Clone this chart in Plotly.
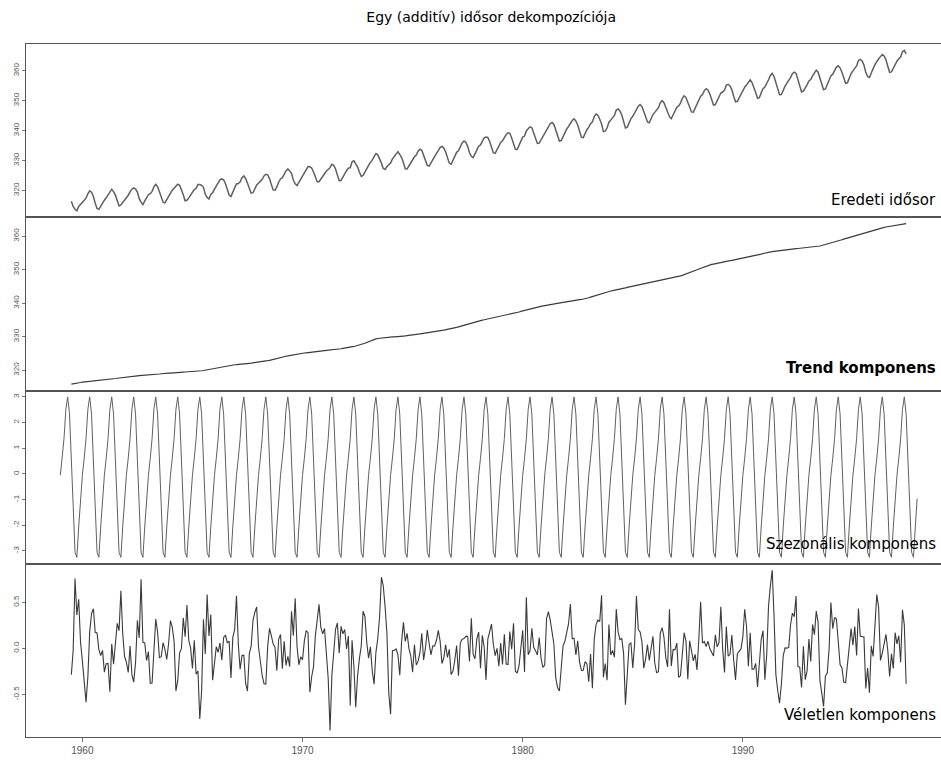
import numpy as np
import plotly.graph_objects as go
from plotly.subplots import make_subplots

# Monthly CO2 concentration (ppm), Jan 1959 - Dec 1997
start_year = 1959
co2_ppm = [
    315.42, 316.31, 316.50, 317.56, 318.13, 318.00, 316.39, 314.65, 313.68, 313.18, 314.66, 315.43,
    316.27, 316.81, 317.42, 318.87, 319.87, 319.43, 318.01, 315.74, 314.00, 313.68, 314.84, 316.03,
    316.73, 317.54, 318.38, 319.31, 320.42, 319.61, 318.42, 316.63, 314.83, 315.16, 315.94, 316.85,
    317.78, 318.40, 319.53, 320.42, 320.85, 320.45, 319.45, 317.25, 316.11, 315.27, 316.53, 317.53,
    318.58, 318.92, 319.70, 321.22, 322.08, 321.31, 319.58, 317.61, 316.05, 315.83, 316.91, 318.20,
    319.41, 320.07, 320.74, 321.40, 322.06, 321.73, 320.27, 318.54, 316.54, 316.71, 317.53, 318.55,
    319.27, 320.28, 320.73, 321.97, 322.00, 321.71, 321.05, 318.71, 317.66, 317.14, 318.70, 319.25,
    320.46, 321.43, 322.23, 323.54, 323.91, 323.59, 322.24, 320.20, 318.48, 317.94, 319.63, 320.87,
    322.17, 322.34, 322.88, 324.25, 324.83, 323.93, 322.38, 320.76, 319.10, 319.24, 320.56, 321.80,
    322.40, 322.99, 323.73, 324.86, 325.40, 325.20, 323.98, 321.95, 320.18, 320.09, 321.16, 322.74,
    323.83, 324.26, 325.47, 326.50, 327.21, 326.54, 325.72, 323.50, 322.22, 321.62, 322.69, 323.95,
    324.89, 325.82, 326.77, 327.97, 327.91, 327.50, 326.18, 324.53, 322.93, 322.90, 323.85, 324.96,
    326.01, 326.51, 327.01, 327.62, 328.76, 328.40, 327.20, 325.27, 323.20, 323.40, 324.63, 325.85,
    326.60, 327.47, 327.58, 329.56, 329.90, 328.92, 327.88, 326.16, 324.68, 325.04, 326.34, 327.39,
    328.37, 329.40, 330.14, 331.33, 332.31, 331.90, 330.70, 329.15, 327.35, 327.02, 327.99, 328.48,
    329.18, 330.55, 331.32, 332.48, 332.92, 332.08, 331.01, 329.23, 327.27, 327.21, 328.29, 329.41,
    330.23, 331.25, 331.87, 333.14, 333.80, 333.43, 331.73, 329.90, 328.40, 328.17, 329.32, 330.59,
    331.58, 332.39, 333.33, 334.41, 334.71, 334.17, 332.89, 330.77, 329.14, 328.78, 330.14, 331.52,
    332.75, 333.24, 334.53, 335.90, 336.57, 336.10, 334.76, 332.59, 331.42, 330.98, 332.24, 333.68,
    334.80, 335.22, 336.47, 337.59, 337.84, 337.72, 336.37, 334.51, 332.60, 332.38, 333.75, 334.78,
    336.05, 336.59, 337.79, 338.71, 339.30, 339.12, 337.56, 335.92, 333.75, 333.70, 335.12, 336.56,
    337.84, 338.19, 339.91, 340.60, 341.29, 341.00, 339.39, 337.43, 335.72, 335.84, 336.93, 338.04,
    339.06, 340.30, 341.21, 342.33, 342.74, 342.08, 340.32, 338.26, 336.52, 336.68, 338.19, 339.44,
    340.57, 341.44, 342.53, 343.39, 343.96, 343.18, 341.88, 339.65, 337.81, 337.69, 339.09, 340.32,
    341.20, 342.35, 342.93, 344.77, 345.58, 345.14, 343.81, 342.21, 339.69, 339.82, 340.98, 342.82,
    343.52, 344.33, 345.11, 346.88, 347.25, 346.62, 345.22, 343.11, 340.90, 341.18, 342.80, 344.04,
    344.79, 345.82, 347.25, 348.17, 348.74, 348.07, 346.38, 344.51, 342.92, 342.62, 344.06, 345.38,
    346.11, 346.78, 347.68, 349.37, 350.03, 349.37, 347.76, 345.73, 344.68, 343.99, 345.48, 346.72,
    347.84, 348.29, 349.23, 350.80, 351.66, 351.07, 349.33, 347.92, 346.27, 346.18, 347.64, 348.78,
    350.25, 351.54, 352.05, 353.41, 354.04, 353.62, 352.22, 350.27, 348.55, 348.72, 349.91, 351.18,
    352.60, 352.92, 353.53, 355.26, 355.52, 354.97, 353.75, 351.52, 349.64, 349.83, 351.14, 352.37,
    353.50, 354.55, 355.23, 356.04, 357.00, 356.07, 354.67, 352.76, 350.82, 351.04, 352.69, 354.07,
    354.59, 355.63, 357.03, 358.48, 359.22, 358.12, 356.06, 353.92, 352.05, 352.11, 353.64, 354.89,
    355.88, 356.63, 357.72, 359.07, 359.58, 359.17, 356.94, 354.92, 352.94, 353.23, 354.09, 355.33,
    356.63, 357.10, 358.32, 359.41, 360.23, 359.55, 357.53, 355.48, 353.67, 353.95, 355.30, 356.78,
    358.34, 358.89, 359.95, 361.25, 361.67, 360.94, 359.55, 357.49, 355.84, 356.00, 357.59, 359.05,
    359.98, 361.03, 361.66, 363.48, 363.82, 363.30, 361.94, 359.50, 358.11, 357.80, 359.61, 360.74,
    362.09, 363.29, 364.06, 364.76, 365.45, 365.01, 363.70, 361.54, 359.51, 359.65, 360.80, 362.38,
    363.23, 364.06, 364.61, 366.40, 366.84, 365.68, 364.52, 362.57, 360.24, 360.83, 362.49, 364.34,
]

panel_labels = ["Eredeti idősor", "<b>Trend komponens</b>", "Szezonális komponens", "Véletlen komponens"]
x_tick_vals = [1960, 1970, 1980, 1990]
y_tick_vals = [[320, 330, 340, 350, 360], [320, 330, 340, 350, 360],
               [-3, -2, -1, 0, 1, 2, 3], [-0.5, 0.0, 0.5]]
y_tick_text = [["320", "330", "340", "350", "360"], ["320", "330", "340", "350", "360"],
               ["-3", "-2", "-1", "0", "1", "2", "3"], ["-0.5", "0.0", "0.5"]]
title_text = "Egy (additív) idősor dekompozíciója"

# --- classical additive decomposition (moving average, period 12) ---
x = np.array(co2_ppm, dtype=float)
n = len(x)
t = start_year + np.arange(n) / 12.0
w = np.r_[0.5, np.ones(11), 0.5] / 12.0
trend = np.full(n, np.nan)
for i in range(6, n - 6):
    trend[i] = np.sum(x[i - 6:i + 7] * w)
detr = x - trend
fig_m = np.array([np.nanmean(detr[m::12]) for m in range(12)])
fig_m -= fig_m.mean()
seasonal = np.tile(fig_m, n // 12)
random = x - trend - seasonal
observed = np.where(np.isnan(trend), np.nan, x)

series = [observed, trend, seasonal, random]
colors = ["#5f5f5f", "#3a3a3a", "#606060", "#3a3a3a"]
widths = [1.5, 1.2, 1.0, 1.1]

fig = make_subplots(rows=4, cols=1, shared_xaxes=True, vertical_spacing=0)
for k, s in enumerate(series):
    fig.add_trace(go.Scatter(x=t, y=s, mode="lines",
                             line=dict(color=colors[k], width=widths[k]),
                             showlegend=False, hoverinfo="skip"), row=k + 1, col=1)

def padded(arr):
    lo, hi = np.nanmin(arr), np.nanmax(arr)
    d = (hi - lo) * 0.04
    return [lo - d, hi + d]

for k, s in enumerate(series):
    fig.update_yaxes(row=k + 1, col=1, range=padded(s), tickvals=y_tick_vals[k],
                     ticktext=y_tick_text[k], tickangle=-90, automargin=False,
                     tickfont=dict(size=8, color="#555555", family="Liberation Sans"),
                     showgrid=False, zeroline=False, showline=True, linecolor="#555555",
                     linewidth=1.2, ticks="outside", ticklen=3, tickcolor="#777777")
    fig.update_xaxes(row=k + 1, col=1, range=[1957.44, 1999.0], showgrid=False,
                     zeroline=False, showline=True, mirror=True, linecolor="#555555",
                     linewidth=1.2, tickvals=x_tick_vals, automargin=False,
                     ticks="outside" if k == 3 else "", ticklen=4, tickcolor="#777777",
                     showticklabels=(k == 3),
                     tickfont=dict(size=10, color="#555555", family="Liberation Sans"))

fig.update_layout(
    width=941, height=760,
    margin=dict(l=26, r=0, t=44, b=23, autoexpand=False),
    plot_bgcolor="white", paper_bgcolor="white",
    title=dict(text=title_text, x=0.522, xanchor="center", y=1 - 17 / 760, yanchor="middle",
               font=dict(size=14, color="#000000", family="DejaVu Sans")),
)

label_y = [0.098, 0.13, 0.116, 0.127]
for k, lab in enumerate(panel_labels):
    yref = "y domain" if k == 0 else f"y{k + 1} domain"
    fig.add_annotation(text=lab, xref="paper", yref=yref, x=0.9967, y=label_y[k],
                       xanchor="right", yanchor="middle", showarrow=False,
                       font=dict(size=15, color="#000000", family="DejaVu Sans"))

fig.write_html("out.html", config={"displayModeBar": False},
               post_script="document.body.style.margin='0';document.body.style.overflow='hidden';")
